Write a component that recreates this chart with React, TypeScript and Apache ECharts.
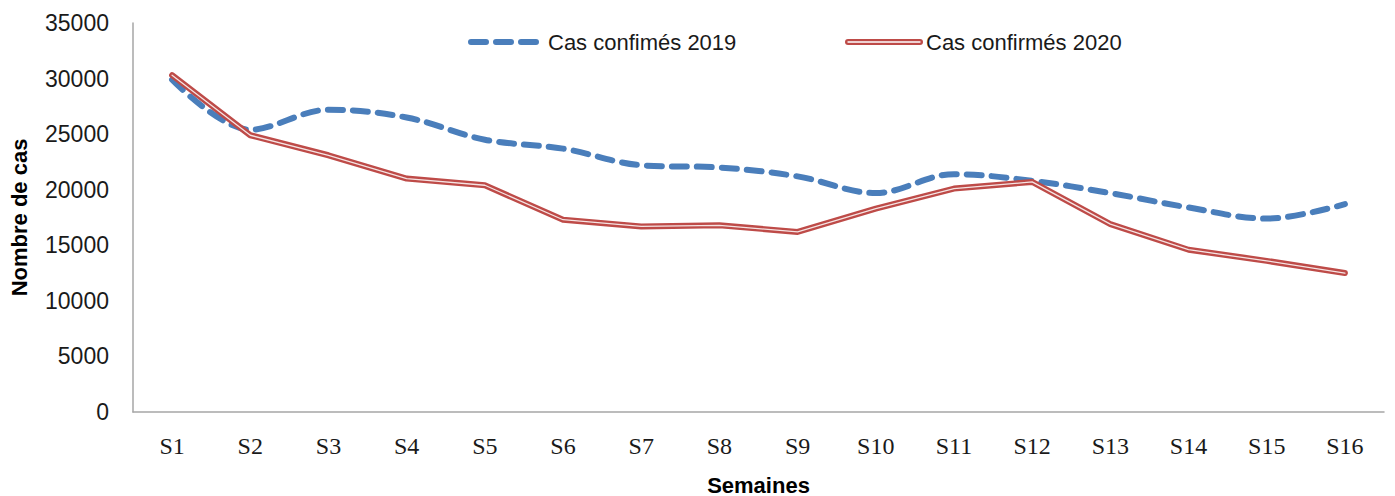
import React, { useEffect, useRef } from "react";
import * as echarts from "echarts";

const weeks = ["S1", "S2", "S3", "S4", "S5", "S6", "S7", "S8", "S9", "S10", "S11", "S12", "S13", "S14", "S15", "S16"];
const cases2019 = [29900, 25400, 27200, 26500, 24500, 23700, 22200, 22000, 21200, 19700, 21400, 20800, 19700, 18400, 17400, 18700];
const cases2020 = [30300, 24900, 23100, 21000, 20400, 17300, 16700, 16800, 16200, 18300, 20100, 20700, 16900, 14600, 13600, 12500];
const name2019 = "Cas confimés 2019";
const name2020 = "Cas confirmés 2020";
const yTitle = "Nombre de cas";
const xTitle = "Semaines";

const BLUE = "#4a7ebb";
const RED = "#be4b48";

export default function App() {
  const ref = useRef<HTMLDivElement>(null);
  useEffect(() => {
    if (!ref.current) return;
    const chart = echarts.init(ref.current, null, { renderer: "svg" });
    chart.setOption({
      animation: false,
      backgroundColor: "#ffffff",
      grid: { left: 133, right: 11, top: 23, bottom: 84, outerBoundsMode: "none", containLabel: false },
      xAxis: {
        type: "category",
        data: weeks,
        boundaryGap: true,
        axisLine: { lineStyle: { color: "#a6a6a6", width: 1.5 } },
        axisTick: { show: false },
        axisLabel: { color: "#1a1a1a", fontFamily: "Liberation Serif", fontSize: 24, margin: 22 },
        name: xTitle,
        nameLocation: "middle",
        nameGap: 62,
        nameTextStyle: { color: "#000", fontFamily: "Liberation Sans", fontWeight: "bold", fontSize: 22 },
      },
      yAxis: {
        type: "value",
        min: 0,
        max: 35000,
        interval: 5000,
        splitLine: { show: false },
        axisLine: { show: true, lineStyle: { color: "#a6a6a6", width: 1.5 } },
        axisTick: { show: false },
        axisLabel: {
          color: "#1a1a1a",
          fontFamily: "Liberation Sans",
          fontSize: 23,
          margin: 24,
          formatter: (v: number) => String(v),
        },
        name: yTitle,
        nameLocation: "middle",
        nameGap: 103,
        nameTextStyle: { color: "#000", fontFamily: "Liberation Sans", fontWeight: "bold", fontSize: 22 },
      },
      series: [
        {
          name: name2019,
          type: "line",
          data: cases2019,
          smooth: 0.35,
          showSymbol: false,
          lineStyle: { color: BLUE, width: 6, type: [15, 10], cap: "round" },
          z: 3,
        },
        {
          name: name2020,
          type: "line",
          data: cases2020,
          smooth: false,
          showSymbol: false,
          lineStyle: { color: RED, width: 6, cap: "round", join: "round" },
          z: 4,
        },
        {
          name: name2020 + " ",
          type: "line",
          data: cases2020,
          smooth: false,
          showSymbol: false,
          silent: true,
          lineStyle: { color: "#ffffff", width: 1.3, cap: "round", join: "round", opacity: 0.85 },
          z: 5,
        },
      ],
      graphic: [
        {
          type: "line",
          shape: { x1: 471, y1: 42, x2: 538, y2: 42 },
          style: { stroke: BLUE, lineWidth: 6, lineDash: [15, 10], lineCap: "round" },
        },
        {
          type: "text",
          x: 548,
          y: 42,
          style: { text: name2019, fill: "#1a1a1a", font: "22px 'Liberation Sans'", textVerticalAlign: "middle" },
        },
        {
          type: "line",
          shape: { x1: 848, y1: 42, x2: 920, y2: 42 },
          style: { stroke: RED, lineWidth: 6, lineCap: "round" },
        },
        {
          type: "line",
          shape: { x1: 848, y1: 42, x2: 920, y2: 42 },
          style: { stroke: "#ffffff", lineWidth: 1.3, lineCap: "round" },
        },
        {
          type: "text",
          x: 926,
          y: 42,
          style: { text: name2020, fill: "#1a1a1a", font: "22px 'Liberation Sans'", textVerticalAlign: "middle" },
        },
      ],
    });
    return () => chart.dispose();
  }, []);
  return <div ref={ref} style={{ position: "fixed", left: 0, top: 0, width: 1395, height: 496 }} />;
}
